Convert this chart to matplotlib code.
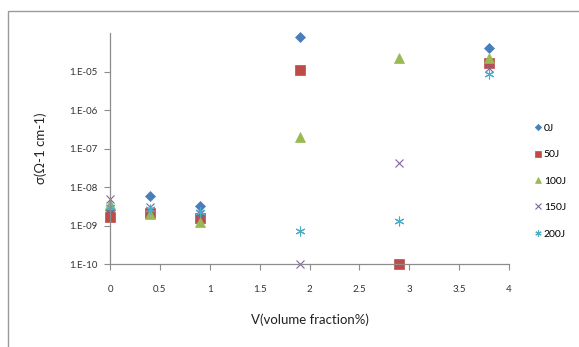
import numpy as np
import matplotlib
matplotlib.use('Agg')
import matplotlib.pyplot as plt
from matplotlib.patches import Rectangle

plt.rcParams['font.family'] = ['Lato', 'DejaVu Sans']

# volume fraction (%) for each series
x = [0, 0.4, 0.9, 1.9, 2.9, 3.8]

# conductivity values
s0 = [2.6e-9, 5.8e-9, 3.3e-9, 7.9e-5, np.nan, 4.0e-5]
s50 = [1.65e-9, 2.1e-9, 1.6e-9, 1.1e-5, 1.0e-10, 1.65e-5]
s100 = [3.6e-9, 2.0e-9, 1.25e-9, 1.95e-7, 2.3e-5, 2.2e-5]
s150 = [5.0e-9, 3.0e-9, 2.0e-9, 1.0e-10, 4.2e-8, 1.2e-5]
s200 = [3.0e-9, 2.7e-9, 2.3e-9, 7.2e-10, 1.3e-9, 8.8e-6]

labels = ['0J', '50J', '100J', '150J', '200J']
colors = ['#4A7EBB', '#BE4B48', '#98B954', '#8064A2', '#4BACC6']
markers = ['D', 's', '^', 'x', (6, 2, 0)]
sizes = [5, 7, 7, 6, 7]

xticks = [0, 0.5, 1, 1.5, 2, 2.5, 3, 3.5, 4]
xtick_labels = ['0', '0.5', '1', '1.5', '2', '2.5', '3', '3.5', '4']
yticks = [1e-10, 1e-9, 1e-8, 1e-7, 1e-6, 1e-5]
ytick_labels = ['1.E-10', '1.E-09', '1.E-08', '1.E-07', '1.E-06', '1.E-05']

fig = plt.figure(figsize=(5.79, 3.47), dpi=100)
# outer chart frame (only top & left edges visible)
fig.patches.append(Rectangle((8/579, -0.05), 1.0, 1 - 11/347 + 0.05,
                             transform=fig.transFigure, fill=False,
                             edgecolor='#9a9a9a', lw=1.0))

ax = fig.add_axes([110/579, 83/347, 399/579, 231/347])

for ys, lab, c, m, ms in zip([s0, s50, s100, s150, s200], labels, colors, markers, sizes):
    ax.plot(x, ys, linestyle='none', marker=m, color=c, markersize=ms,
            markeredgewidth=0.8 if m in ('x', (6, 2, 0)) else 0.5,
            label=lab, clip_on=False)

ax.set_yscale('log')
ax.set_xlim(0, 4)
ax.set_ylim(1e-10, 1e-4)
ax.set_xticks(xticks)
ax.set_xticklabels(xtick_labels)
ax.set_yticks(yticks)
ax.set_yticklabels(ytick_labels)
ax.minorticks_off()

for side in ['top', 'right']:
    ax.spines[side].set_visible(False)
for side in ['left', 'bottom']:
    ax.spines[side].set_color('#8c8c8c')
    ax.spines[side].set_linewidth(0.9)
ax.tick_params(axis='both', direction='out', length=4, width=0.8,
               color='#8c8c8c', labelsize=7, labelcolor='#333333')
ax.tick_params(axis='x', pad=11)
ax.tick_params(axis='y', pad=5)

ax.set_xlabel('V(volume fraction%)', fontsize=9.5, color='#222222', labelpad=14)
ax.set_ylabel('σ(Ω-1 cm-1)', fontsize=9.5, color='#222222', labelpad=16)

leg = ax.legend(loc='upper left', bbox_to_anchor=(526/579, 233/347),
                bbox_transform=fig.transFigure, frameon=False, fontsize=7.5,
                handlelength=0.5, handletextpad=0.3, labelspacing=1.65,
                markerscale=0.65)

fig.savefig('out.png', dpi=100)
